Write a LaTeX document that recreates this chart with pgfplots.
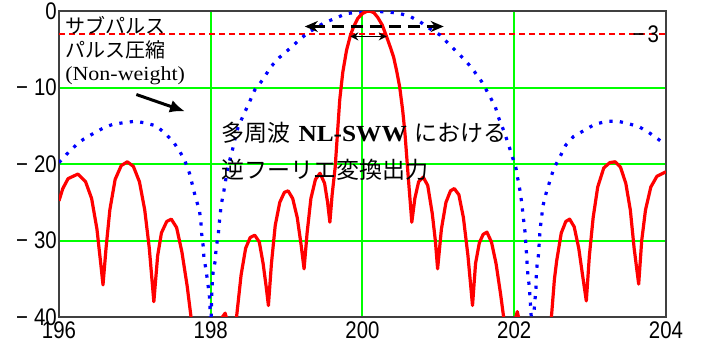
\documentclass[border=0pt]{standalone}
\usepackage{fontspec}
\usepackage{pgfplots}
\pgfplotsset{compat=1.18}
\usetikzlibrary{arrows.meta}
\setmainfont{Liberation Serif}
\newfontfamily\jp{Noto Sans CJK JP}
\newfontfamily\tk[FakeStretch=0.85]{Liberation Sans}
\newfontfamily\lat[FakeStretch=1.1]{Liberation Serif}
\definecolor{gridgreen}{RGB}{0,255,0}
\definecolor{myblue}{RGB}{0,0,255}
\definecolor{myred}{RGB}{255,0,0}
\pgfplotstableread{
x y
196.00 -24.8
196.05 -23.2
196.12 -21.9
196.25 -21.3
196.35 -22.3
196.43 -24.5
196.50 -28.5
196.55 -33
196.58 -35.8
196.62 -31
196.67 -26
196.74 -22
196.82 -20.2
196.90 -19.7
196.98 -20.3
197.06 -22.3
197.13 -26
197.19 -31
197.25 -38
197.30 -32
197.35 -29
197.42 -27.5
197.48 -27.2
197.55 -28.3
197.62 -31.5
197.69 -36
197.74 -40
197.78 -43
197.84 -47
197.90 -43
197.96 -44
198.04 -48
198.10 -42
198.14 -40.2
198.19 -39.5
198.23 -41
198.28 -46
198.32 -42
198.34 -40
198.40 -34.5
198.46 -31
198.52 -29.6
198.58 -29.3
198.64 -30.2
198.69 -33
198.73 -36
198.76 -38.5
198.80 -33
198.85 -28
198.91 -25
198.97 -23.7
199.02 -23.5
199.08 -24.5
199.14 -27
199.19 -30.5
199.23 -33.7
199.27 -29
199.32 -24.5
199.38 -22
199.44 -21.2
199.50 -22.5
199.54 -25
199.57 -27.6
199.60 -24
199.64 -20.4
199.67 -16
199.70 -11.6
199.74 -8
199.79 -5.1
199.84 -3.2
199.88 -2.1
199.94 -0.9
200.00 -0.3
200.06 0
200.10 0
200.15 -0.2
200.20 -0.8
200.26 -1.8
200.32 -3.4
200.37 -4.8
200.41 -6.0
200.45 -7.8
200.49 -9.9
200.53 -13
200.56 -16.0
200.60 -21.3
200.65 -27.6
200.69 -24.5
200.74 -22.3
200.80 -21.7
200.86 -22.8
200.92 -26.5
200.96 -30
200.99 -33.7
201.04 -28.5
201.10 -25
201.16 -23.5
201.21 -23.2
201.27 -24
201.33 -27
201.39 -32
201.45 -38.5
201.49 -33
201.54 -30.3
201.59 -29.2
201.64 -28.9
201.70 -30.2
201.76 -33
201.82 -37
201.86 -40
201.92 -46
201.97 -42
202.04 -39.3
202.10 -42
202.16 -48
202.25 -44
202.32 -43
202.40 -47
202.46 -43
202.49 -40
202.53 -35
202.56 -32.6
202.62 -29
202.68 -27.5
202.73 -27.2
202.79 -28.2
202.85 -31
202.90 -34.5
202.95 -37.9
202.99 -32
203.04 -27
203.10 -23
203.18 -20.5
203.26 -19.8
203.33 -19.7
203.40 -20.4
203.47 -22.5
203.53 -26
203.58 -31
203.64 -35.7
203.68 -30
203.73 -26
203.80 -23
203.88 -21.6
204.00 -21.0
}\redtable
\pgfplotstableread{
x y
196.00 -19.8
196.14 -18.3
196.26 -17.2
196.33 -16.7
196.47 -15.9
196.60 -15.2
196.71 -14.8
196.84 -14.6
197.00 -14.4
197.13 -14.6
197.28 -15.0
197.39 -15.9
197.50 -17.0
197.59 -18.3
197.66 -19.6
197.72 -21.2
197.76 -22.8
197.80 -24.4
197.85 -26.0
197.87 -27.5
197.88 -29.1
197.90 -30.7
197.91 -32.2
197.94 -34
197.96 -35.5
197.98 -37.0
197.99 -38.5
198.00 -42
198.01 -38
198.02 -35.7
198.03 -34.2
198.06 -32.6
198.07 -31.1
198.10 -29.1
198.12 -26.9
198.14 -25.2
198.17 -23.7
198.20 -21.9
198.23 -20.2
198.28 -18.4
198.32 -16.7
198.36 -15.2
198.43 -13.6
198.51 -11.9
198.58 -10.3
198.69 -8.9
198.79 -7.3
198.90 -6.1
199.04 -4.9
199.15 -3.9
199.27 -2.9
199.48 -1.6
199.79 -0.3
200.10 0
200.34 -0.1
200.49 -0.3
200.63 -0.7
200.76 -1.4
200.89 -2.3
201.02 -3.1
201.13 -4.2
201.24 -5.3
201.37 -6.6
201.46 -7.7
201.57 -9.2
201.66 -10.8
201.75 -12.5
201.80 -14.1
201.86 -15.6
201.92 -17.3
201.97 -18.9
202.02 -20.4
202.05 -22.1
202.08 -23.7
202.10 -25.2
202.12 -27.0
202.14 -28.7
202.16 -31.5
202.17 -33.1
202.18 -34.6
202.20 -36.1
202.21 -37.8
202.22 -39.4
202.24 -42
202.26 -39.5
202.27 -38.1
202.285 -36.5
202.29 -34.8
202.30 -33.3
202.32 -31.8
202.33 -30.2
202.34 -28.6
202.36 -27.0
202.38 -25.4
202.42 -23.8
202.47 -22.2
202.52 -20.6
202.60 -19.1
202.68 -17.5
202.78 -16.4
202.92 -15.6
203.06 -14.8
203.22 -14.4
203.37 -14.4
203.50 -14.7
203.64 -15.1
203.75 -15.7
203.85 -16.4
203.96 -17.2
204.00 -17.4
}\bluetable
\begin{document}
\begin{tikzpicture}
\useasboundingbox (-59bp,-29bp) rectangle (643bp,317bp);
\begin{axis}[
  at={(0,0)}, anchor=south west,
  scale only axis, width=607bp, height=305.8bp,
  xmin=196, xmax=204, ymin=-40, ymax=0,
  xtick={196,198,200,202,204}, xticklabels={196,198,200,202,204},
  ytick={-40,-30,-20,-10,0},
  yticklabels={−\hspace{6bp}40,−\hspace{6bp}30,−\hspace{6bp}20,−\hspace{6bp}10,0},
  grid=major, grid style={gridgreen, line width=2bp},
  major tick length=0pt,
  axis line style={black!75, line width=2bp},
  tick label style={font=\tk\fontsize{24bp}{24bp}\selectfont, inner sep=2bp},
  xticklabel style={yshift=-3bp},
]
\addplot[myred, line width=1.8bp, dash pattern=on 6bp off 4bp] coordinates {(196,-3) (204,-3)};
\addplot[myblue, line width=3.2bp, dash pattern=on 3.2bp off 7.3bp] table[x=x,y=y] {\bluetable};
\addplot[myred, line width=3.2bp, line join=round] table[x=x,y=y] {\redtable};

\node[anchor=west, inner sep=0, font=\jp\fontsize{20bp}{20bp}\selectfont] at (axis cs:196.08,-1.8) {サブパルス};
\node[anchor=west, inner sep=0, font=\jp\fontsize{20bp}{20bp}\selectfont] at (axis cs:196.08,-5.1) {パルス圧縮};
\node[anchor=west, inner sep=0, font=\lat\fontsize{20bp}{20bp}\selectfont] at (axis cs:196.08,-8.4) {(Non-weight)};

\node[anchor=west, inner sep=0] at (axis cs:198.14,-15.96) {\fontsize{23bp}{23bp}\selectfont\jp 多周波\hspace{8bp}{\lat\bfseries NL-SWW}\hspace{8bp}における};
\node[anchor=west, inner sep=0] at (axis cs:198.14,-20.8) {\fontsize{23bp}{23bp}\selectfont\jp 逆フーリエ変換出力};

\node[anchor=east, inner sep=0, font=\tk\fontsize{24bp}{24bp}\selectfont] at (axis cs:203.91,-3) {−\hspace{3bp}3};

\draw[-{Latex[length=15bp,width=13bp]}, line width=3bp] (axis cs:197.02,-10.9) -- (axis cs:197.66,-13.1);
\draw[{Stealth[length=13bp,width=11bp]}-{Stealth[length=13bp,width=11bp]}, line width=3bp, dash pattern=on 12bp off 7bp] (axis cs:199.24,-2.0) -- (axis cs:201.07,-2.0);
\draw[{Stealth[length=8bp,width=8bp]}-{Stealth[length=8bp,width=8bp]}, line width=1.6bp] (axis cs:199.84,-3.3) -- (axis cs:200.32,-3.3);
\end{axis}
\end{tikzpicture}
\end{document}
